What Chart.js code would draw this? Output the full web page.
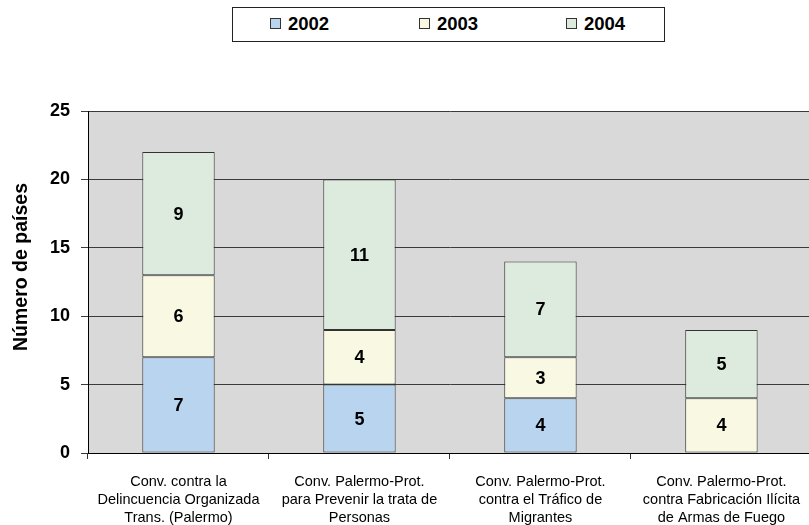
<!DOCTYPE html>
<html>
<head>
<meta charset="utf-8">
<script src="https://cdn.jsdelivr.net/npm/chart.js@4/dist/chart.umd.min.js"></script>
<style>
  html, body { margin: 0; padding: 0; background: #fff; overflow: hidden; }
  #wrap { position: relative; width: 809px; height: 525px; overflow: hidden; font-family: 'Liberation Sans', Arial, sans-serif; }
  #legend {
    position: absolute; left: 232px; top: 7px; width: 433px; height: 35px;
    border: 1.5px solid #222; box-sizing: border-box; background: #fff;
  }
  .item { position: absolute; top: 6px; font-weight: bold; font-size: 18.5px; line-height: 20px; color: #000; }
  .sw { display: inline-block; width: 9px; height: 9px; border: 1px solid #333; margin-right: 7px; vertical-align: 1px; }
</style>
</head>
<body>
<div id="wrap">
  <!-- plot area runs a little past the right edge of the picture, as in the original -->
  <canvas id="c" width="814" height="525"></canvas>
  <div id="legend"></div>
</div>
<script>
// ── Data ─────────────────────────────────────────────
const categories = [
  ['Conv. contra la', 'Delincuencia Organizada', 'Trans. (Palermo)'],
  ['Conv. Palermo-Prot.', 'para Prevenir la trata de', 'Personas'],
  ['Conv. Palermo-Prot.', 'contra el Tráfico de', 'Migrantes'],
  ['Conv. Palermo-Prot.', 'contra Fabricación Ilícita', 'de Armas de Fuego'],
];
const years = ['2002', '2003', '2004'];
const v2002 = [7, 5, 4, 0];
const v2003 = [6, 4, 3, 4];
const v2004 = [9, 11, 7, 5];
const colors = ['#b9d4ef', '#f9f9e3', '#dcebdd'];
const yTitle = 'Número de países';

const FONT = "'Liberation Sans', Arial, sans-serif";

// ── Legend (HTML) ─────────────────────────────────────
const legendX = [37, 186, 333];
const legend = document.getElementById('legend');
years.forEach((y, i) => {
  const d = document.createElement('div');
  d.className = 'item';
  d.style.left = legendX[i] + 'px';
  d.innerHTML = '<span class="sw" style="background:' + colors[i] + '"></span>' + y;
  legend.appendChild(d);
});

// ── Plugins ──────────────────────────────────────────
const plotBg = {
  id: 'plotBg',
  beforeDraw(chart) {
    const { ctx, chartArea: a } = chart;
    ctx.save();
    ctx.fillStyle = '#d9d9d9';
    ctx.fillRect(a.left, a.top, a.right - a.left, a.bottom - a.top);
    ctx.restore();
  }
};

// y title sits a bit above the plot centre in the original
const yTitlePlugin = {
  id: 'yTitlePlugin',
  afterDraw(chart) {
    const { ctx, chartArea: a } = chart;
    ctx.save();
    ctx.translate(22, (a.top + a.bottom) / 2 - 15);
    ctx.rotate(-Math.PI / 2);
    ctx.font = 'bold 19.5px ' + FONT;
    ctx.fillStyle = '#000';
    ctx.textAlign = 'center';
    ctx.textBaseline = 'middle';
    ctx.fillText(yTitle, 0, 0);
    ctx.restore();
  }
};

const valueLabels = {
  id: 'valueLabels',
  afterDatasetsDraw(chart) {
    const { ctx } = chart;
    ctx.save();
    ctx.font = 'bold 18px ' + FONT;
    ctx.fillStyle = '#000';
    ctx.textAlign = 'center';
    ctx.textBaseline = 'middle';
    chart.data.datasets.forEach((ds, di) => {
      chart.getDatasetMeta(di).data.forEach((bar, i) => {
        const v = ds.data[i];
        if (!v) return;
        ctx.fillText(String(v), bar.x, (bar.y + bar.base) / 2 + 1);
      });
    });
    ctx.restore();
  }
};

const vals = [v2002, v2003, v2004];

new Chart(document.getElementById('c'), {
  type: 'bar',
  data: {
    labels: categories,
    datasets: years.map((y, i) => ({
      label: y,
      data: vals[i],
      backgroundColor: colors[i],
      borderColor: '#333',
      borderWidth: 1,
      borderSkipped: false,
      categoryPercentage: 1,
      barPercentage: 0.4,
    })),
  },
  options: {
    responsive: false,
    animation: false,
    layout: { padding: { top: 111, right: 0, bottom: 0, left: 0 } },
    plugins: { legend: { display: false }, tooltip: { enabled: false } },
    scales: {
      x: {
        stacked: true,
        offset: true,
        afterFit(scale) { scale.height = 72; },
        grid: { display: true, offset: true, drawOnChartArea: false, drawTicks: true, tickLength: 6, color: '#333' },
        border: { color: '#000', width: 1 },
        ticks: { color: '#000', font: { family: FONT, size: 14.5, lineHeight: 1.24 }, padding: 14, maxRotation: 0, autoSkip: false },
      },
      y: {
        stacked: true,
        min: 0, max: 25,
        afterFit(scale) { scale.width = 88; },
        ticks: { stepSize: 5, color: '#000', font: { family: FONT, size: 18, weight: 'bold' }, padding: 11 },
        grid: { color: '#3a3a3a', lineWidth: 1, tickLength: 7, drawTicks: true },
        border: { color: '#000', width: 1 },
        title: { display: false },
      },
    },
  },
  plugins: [plotBg, valueLabels, yTitlePlugin],
});
</script>
</body>
</html>
